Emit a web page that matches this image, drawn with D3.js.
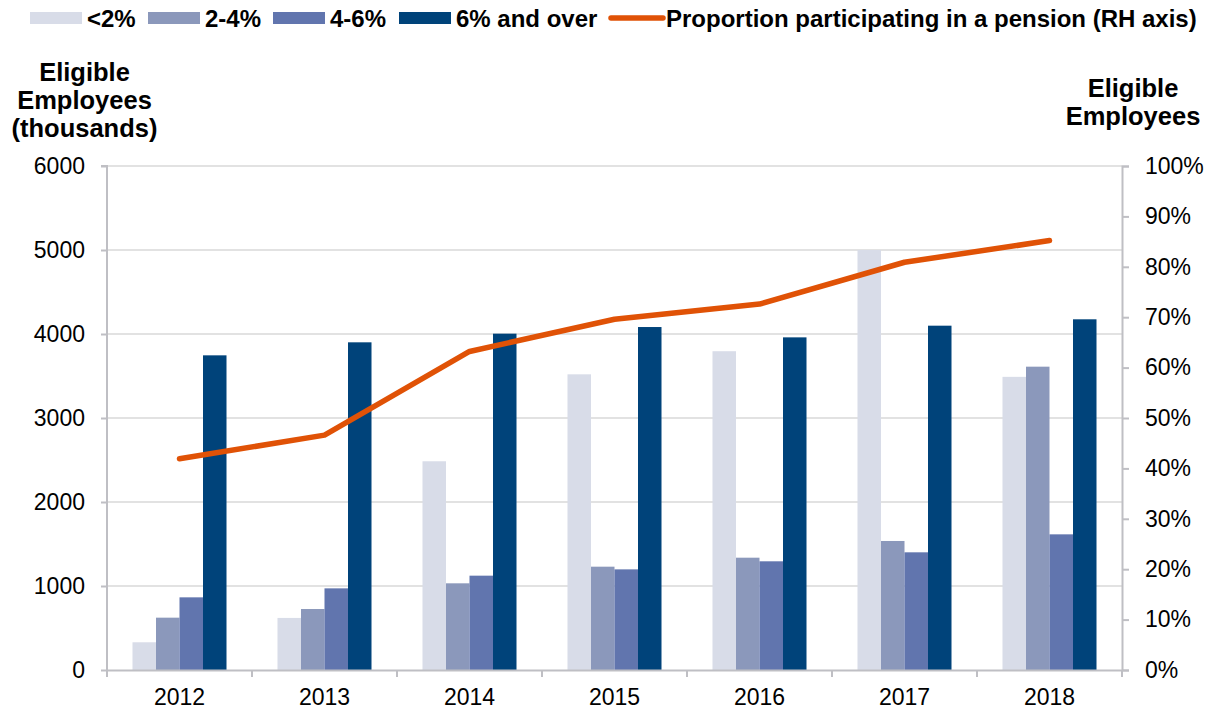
<!DOCTYPE html>
<html>
<head>
<meta charset="utf-8">
<script src="https://cdn.jsdelivr.net/npm/d3@7"></script>
<style>
  html, body { margin: 0; padding: 0; background: #fff; }
  svg { display: block; font-family: "Liberation Sans", Arial, sans-serif; }
</style>
</head>
<body>
<svg id="chart" width="1205" height="711"></svg>
<script>
const years = ["2012", "2013", "2014", "2015", "2016", "2017", "2018"];
const seriesNames = ["<2%", "2-4%", "4-6%", "6% and over"];
const under2 = [330, 620, 2485, 3520, 3795, 5000, 3490];
const from2to4 = [623, 726, 1032, 1230, 1337, 1536, 3611];
const from4to6 = [865, 972, 1123, 1198, 1294, 1401, 1615];
const over6 = [3746, 3901, 4004, 4083, 3960, 4099, 4175];
const participation = [0.419, 0.466, 0.632, 0.696, 0.726, 0.809, 0.852];
const leftTicks = [0, 1000, 2000, 3000, 4000, 5000, 6000];
const rightTicks = [0, 0.1, 0.2, 0.3, 0.4, 0.5, 0.6, 0.7, 0.8, 0.9, 1.0];
const lineName = "Proportion participating in a pension (RH axis)";

(function () {
const colors = ["#D8DCE8", "#8B98BB", "#6175AE", "#00437A"];
const lineColor = "#E05206";
const seriesValues = [under2, from2to4, from4to6, over6];
const font = "'Liberation Sans', Arial, sans-serif";

const svg = d3.select("#chart");
const pLeft = 107, pRight = 1122, pTop = 166, pBottom = 670;

const x = d3.scaleBand().domain(years).range([pLeft, pRight]).paddingInner(0).paddingOuter(0);
const xs = d3.scaleBand().domain(seriesNames).range([0, 94]);
const groupOffset = (x.bandwidth() - 94) / 2;
const yL = d3.scaleLinear().domain([0, 6000]).range([pBottom, pTop]);
const yR = d3.scaleLinear().domain([0, 1]).range([pBottom, pTop]);

// gridlines
svg.append("g").selectAll("line").data(leftTicks.slice(1)).join("line")
  .attr("x1", pLeft).attr("x2", pRight)
  .attr("y1", d => yL(d)).attr("y2", d => yL(d))
  .attr("stroke", "#D9D9D9").attr("stroke-width", 1.5);

// bars
seriesNames.forEach((name, si) => {
  svg.append("g").selectAll("rect").data(years).join("rect")
    .attr("x", (d) => x(d) + groupOffset + xs(name))
    .attr("width", xs.bandwidth())
    .attr("y", (d, i) => yL(seriesValues[si][i]))
    .attr("height", (d, i) => yL(0) - yL(seriesValues[si][i]))
    .attr("fill", colors[si]);
});

// axes
const axisColor = "#BFBFC4";
const gLeft = svg.append("g").attr("transform", `translate(${pLeft},0)`)
  .call(d3.axisLeft(yL).tickValues(leftTicks).tickSize(6).tickPadding(16).tickFormat(d3.format("d")));
const gRight = svg.append("g").attr("transform", `translate(${pRight},0)`)
  .call(d3.axisRight(yR).tickValues(rightTicks).tickSize(7).tickPadding(16).tickFormat(d3.format(".0%")));
const gBottom = svg.append("g").attr("transform", `translate(0,${pBottom})`)
  .call(d3.axisBottom(x).tickSize(0).tickPadding(17));
// category boundary ticks
svg.append("g").selectAll("line").data(years.concat(["end"])).join("line")
  .attr("x1", (d, i) => pLeft + i * x.bandwidth()).attr("x2", (d, i) => pLeft + i * x.bandwidth())
  .attr("y1", pBottom).attr("y2", pBottom + 7)
  .attr("stroke", axisColor).attr("stroke-width", 2);

[gLeft, gRight, gBottom].forEach(g => {
  g.selectAll(".domain").attr("stroke", axisColor).attr("stroke-width", 2);
  g.selectAll(".tick line").attr("stroke", axisColor).attr("stroke-width", 2);
  g.selectAll("text").attr("fill", "#000").style("font-size", "23px").style("font-family", font);
});
gBottom.selectAll("text").attr("y", 35).attr("dy", 0);
gLeft.select(".domain").attr("d", `M-6,${pTop}H0V${pBottom}`);

// line
const line = d3.line()
  .x((d, i) => x(years[i]) + x.bandwidth() / 2)
  .y(d => yR(d));
svg.append("path").datum(participation)
  .attr("d", line).attr("fill", "none")
  .attr("stroke", lineColor).attr("stroke-width", 5.5)
  .attr("stroke-linecap", "round").attr("stroke-linejoin", "round");

// axis titles
const titleStyle = (t) => t.attr("font-weight", "bold").style("font-size", "25.5px").style("font-family", font)
  .attr("fill", "#000").attr("text-anchor", "middle");
const lt = svg.append("text").call(titleStyle);
[["Eligible", 81], ["Employees", 109], ["(thousands)", 137]].forEach(([s, yy]) =>
  lt.append("tspan").attr("x", 84.5).attr("y", yy).text(s));
const rt = svg.append("text").call(titleStyle);
[["Eligible", 97], ["Employees", 125]].forEach(([s, yy]) =>
  rt.append("tspan").attr("x", 1133).attr("y", yy).text(s));

// legend
const legend = svg.append("g");
const legendX = [30, 148, 273, 399];
seriesNames.forEach((name, i) => {
  legend.append("rect").attr("x", legendX[i]).attr("y", 12).attr("width", 52).attr("height", 12).attr("fill", colors[i]);
  legend.append("text").attr("x", legendX[i] + 57).attr("y", 27).text(name)
    .attr("font-weight", "bold").style("font-size", "24px").style("font-family", font).attr("fill", "#000");
});
legend.append("line").attr("x1", 611).attr("x2", 663).attr("y1", 18).attr("y2", 18)
  .attr("stroke", lineColor).attr("stroke-width", 5.5).attr("stroke-linecap", "round");
legend.append("text").attr("x", 666).attr("y", 27).text(lineName)
  .attr("font-weight", "bold").style("font-size", "24px").style("font-family", font).attr("fill", "#000");
})();
</script>
</body>
</html>
